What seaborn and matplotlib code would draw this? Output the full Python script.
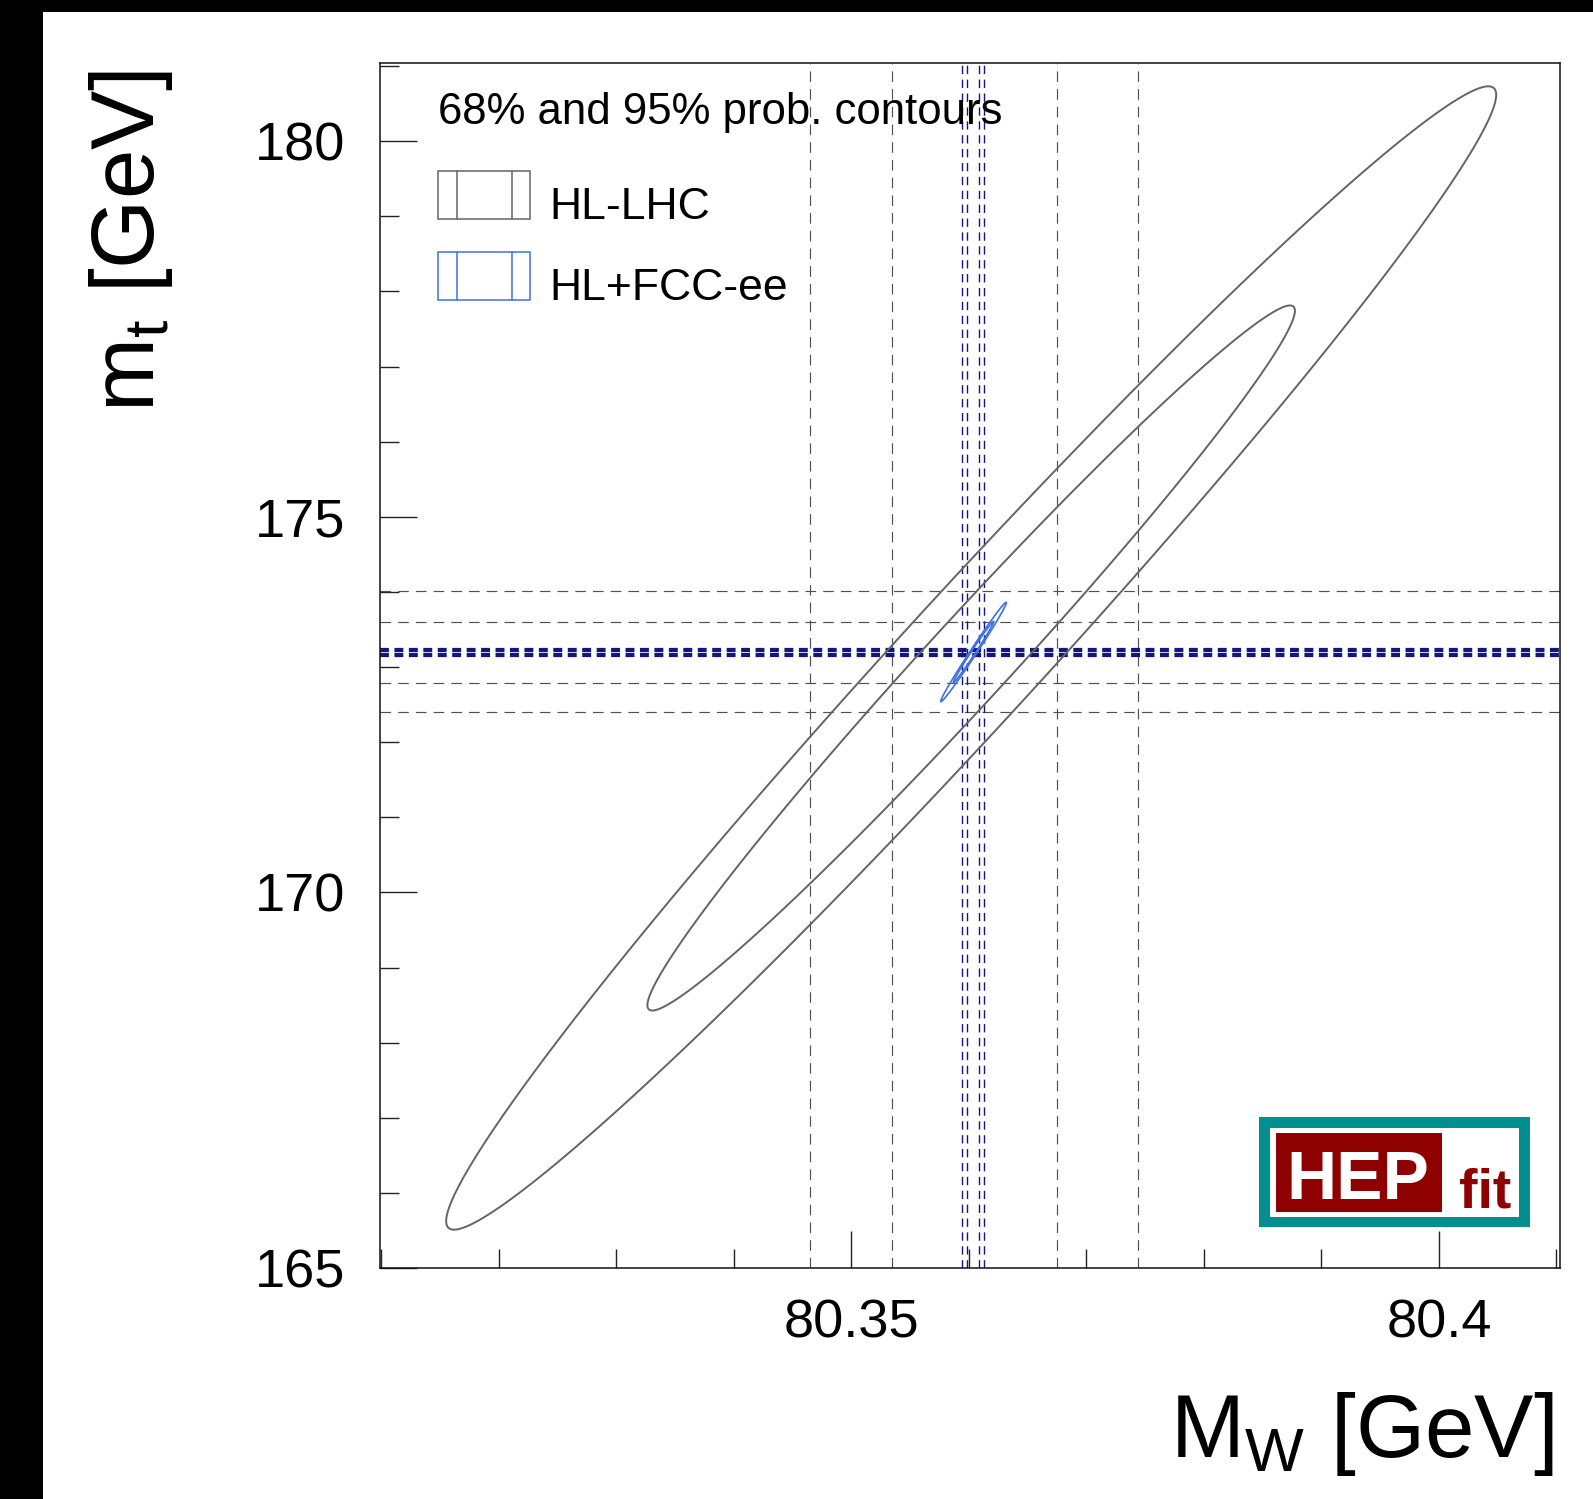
import numpy as np
import matplotlib
matplotlib.use("Agg")
import matplotlib.pyplot as plt
from matplotlib.patches import Rectangle
from matplotlib.lines import Line2D
from matplotlib.ticker import MultipleLocator, FuncFormatter
import seaborn as sns

W_PX, H_PX = 1593, 1499

# direct measurement bounds (68% inner pair, 95% outer pair)
mw_hllhc_bounds = [80.34647, 80.35347, 80.36747, 80.37439]
mt_hllhc_bounds = [172.400, 172.792, 173.605, 174.011]
mw_fcc_bounds = [80.35938, 80.35987, 80.36089, 80.36133]
mt_fcc_bounds = [173.149, 173.176, 173.216, 173.242]

# indirect posteriors: mean, sigma, correlation
hllhc_mean = [80.3602, 173.12]
hllhc_sigma = [0.01825, 3.109]
hllhc_rho = 0.985
fcc_mean = [80.3604, 173.20]
fcc_sigma = [0.00114, 0.270]
fcc_rho = 0.993
prob_levels = [0.68, 0.95]

mw_range = [80.3099, 80.4103]
mt_range = [165.0, 181.04]

legend_title = "68% and 95% prob. contours"
legend_names = ["HL-LHC", "HL+FCC-ee"]

GRAY = "#646464"
BLUE = "#3d6fe6"
NAVY = "#15157d"
DASH_GRAY = "#505050"
FONT = ['Liberation Sans', 'DejaVu Sans']

sns.set_theme(style="ticks")
plt.rcParams['font.family'] = FONT
plt.rcParams['text.color'] = 'black'
plt.rcParams['axes.labelcolor'] = 'black'
plt.rcParams['mathtext.fontset'] = 'custom'
plt.rcParams['mathtext.rm'] = 'Liberation Sans'
plt.rcParams['mathtext.it'] = 'Liberation Sans'


def fx(px):
    return px / W_PX


def fy(py):
    return 1 - py / H_PX


def chi2_grid(mean, sigma, rho, n=800, span=3.2):
    x = np.linspace(mean[0] - span * sigma[0], mean[0] + span * sigma[0], n)
    y = np.linspace(mean[1] - span * sigma[1], mean[1] + span * sigma[1], n)
    X, Y = np.meshgrid(x, y)
    u = (X - mean[0]) / sigma[0]
    v = (Y - mean[1]) / sigma[1]
    q = (u * u - 2 * rho * u * v + v * v) / (1 - rho * rho)
    return X, Y, q


levels = [-2 * np.log(1 - p) for p in prob_levels]

fig = plt.figure(figsize=(W_PX / 100, H_PX / 100), dpi=100)
fig.patch.set_facecolor("white")
ax = fig.add_axes([fx(380), fy(1268), 1180 / W_PX, 1205 / H_PX])
ax.set_facecolor("white")

# black screenshot edges
fig.add_artist(Rectangle((0, 0), fx(43), 1, transform=fig.transFigure,
                         facecolor="black", edgecolor="none", zorder=-5))
fig.add_artist(Rectangle((0, fy(12)), 1, 12 / H_PX, transform=fig.transFigure,
                         facecolor="black", edgecolor="none", zorder=-5))

# measurement lines
for v in mw_hllhc_bounds:
    ax.axvline(v, color=DASH_GRAY, lw=0.85, dashes=(9, 6), zorder=2)
for v in mt_hllhc_bounds:
    ax.axhline(v, color=DASH_GRAY, lw=0.85, dashes=(9, 6), zorder=2)
for v in mw_fcc_bounds:
    ax.axvline(v, color=NAVY, lw=1.0, dashes=(6, 4), zorder=2)
for v in mt_fcc_bounds:
    ax.axhline(v, color=NAVY, lw=1.6, dashes=(4, 2.5), zorder=2)

# contours
X, Y, Q = chi2_grid(hllhc_mean, hllhc_sigma, hllhc_rho)
ax.contour(X, Y, Q, levels=levels, colors=GRAY, linewidths=1.4, zorder=3)
X, Y, Q = chi2_grid(fcc_mean, fcc_sigma, fcc_rho)
ax.contour(X, Y, Q, levels=levels, colors=BLUE, linewidths=1.2, zorder=4)

ax.set_xlim(mw_range)
ax.set_ylim(mt_range)

ax.xaxis.set_major_locator(MultipleLocator(0.05))
ax.xaxis.set_minor_locator(MultipleLocator(0.01))
ax.yaxis.set_major_locator(MultipleLocator(5))
ax.yaxis.set_minor_locator(MultipleLocator(1))
ax.xaxis.set_major_formatter(FuncFormatter(lambda v, p: f"{v:g}"))
ax.yaxis.set_major_formatter(FuncFormatter(lambda v, p: f"{v:g}"))

ax.tick_params(axis='both', which='major', direction='in', length=26.5,
               width=1.0, color="#222222", labelsize=39, labelcolor="black",
               top=False, right=False)
ax.tick_params(axis='both', which='minor', direction='in', length=13.7,
               width=1.0, color="#222222", top=False, right=False)
ax.tick_params(axis='y', which='major', pad=25)
ax.tick_params(axis='x', which='major', pad=22)
for s in ax.spines.values():
    s.set_linewidth(1.1)
    s.set_color("#111111")
    s.set_visible(True)

ax.set_xlabel(r"M$_{\mathrm{W}}$ [GeV]", fontsize=64, loc='right')
ax.xaxis.set_label_coords((1554 - 380) / 1180, (1268 - 1390) / 1205)
ax.xaxis.label.set_va('top')
ax.set_ylabel(r"m$_{\mathrm{t}}$ [GeV]", fontsize=64, loc='top')
ax.yaxis.set_label_coords((175 - 380) / 1180, (1268 - 70) / 1205)

# legend drawn ROOT-style
fig.text(fx(438), fy(124), legend_title, fontsize=31.5, va='baseline',
         ha='left', color="black")
for name, col, top in zip(legend_names, [GRAY, BLUE], [171, 252]):
    fig.add_artist(Rectangle((fx(438), fy(top + 48)), 92 / W_PX, 48 / H_PX,
                             transform=fig.transFigure, facecolor="white",
                             edgecolor=col, lw=1.1))
    for lx in [457, 512]:
        fig.add_artist(Line2D([fx(lx), fx(lx)], [fy(top), fy(top + 48)],
                              transform=fig.transFigure, color=col, lw=1.1))
    fig.text(fx(549), fy(top + 48), name, fontsize=32, va='baseline',
             ha='left', color="black")

# HEPfit logo
fig.add_artist(Rectangle((fx(1259), fy(1227)), 271 / W_PX, 110 / H_PX,
                         transform=fig.transFigure, facecolor="#008f8f",
                         edgecolor="none", zorder=5))
fig.add_artist(Rectangle((fx(1270), fy(1217)), 249 / W_PX, 89 / H_PX,
                         transform=fig.transFigure, facecolor="white",
                         edgecolor="none", zorder=6))
fig.add_artist(Rectangle((fx(1276), fy(1212)), 166 / W_PX, 79 / H_PX,
                         transform=fig.transFigure, facecolor="#8f0000",
                         edgecolor="none", zorder=7))
fig.text(fx(1286), fy(1199), "HEP", family=FONT, weight="bold",
         fontsize=50, color="white", va="baseline", ha="left", zorder=8)
fig.text(fx(1459), fy(1208), "fit", family=FONT, weight="bold",
         fontsize=40, color="#8f0000", va="baseline", ha="left", zorder=8)

fig.savefig("out.png", dpi=100, facecolor="white")
